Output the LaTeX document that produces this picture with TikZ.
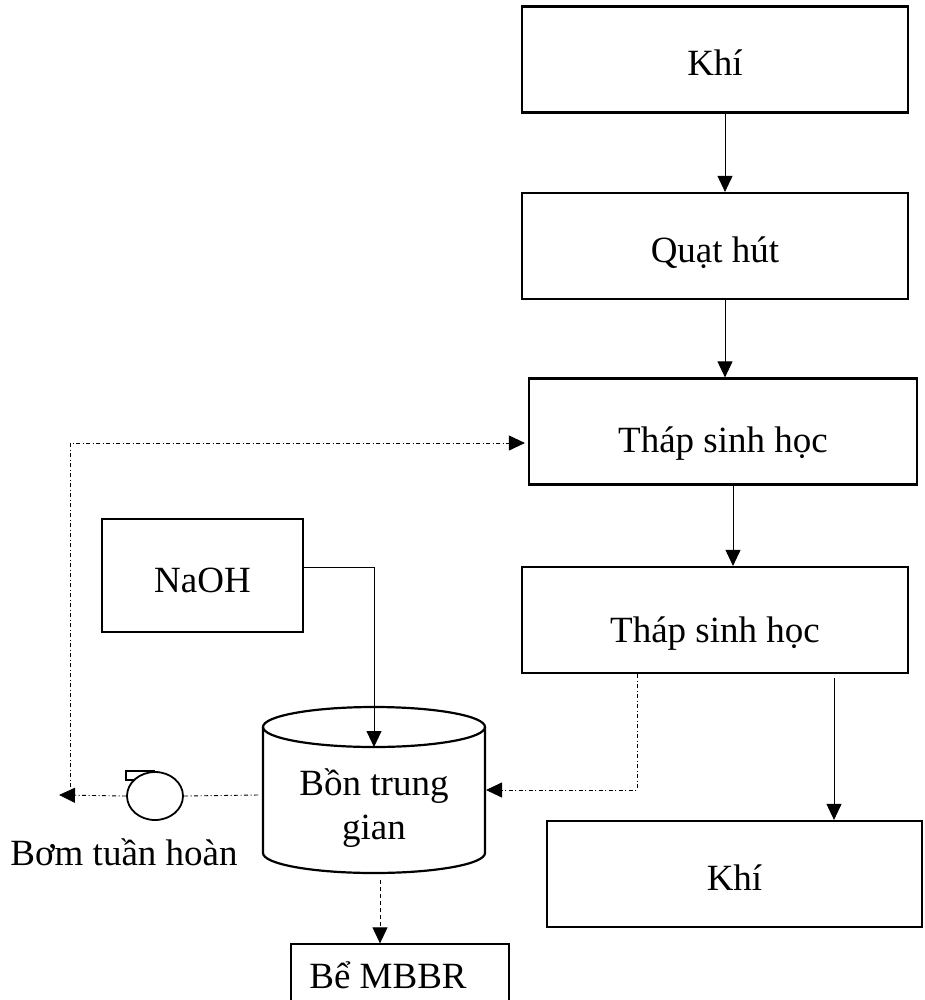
\documentclass[tikz,border=0pt]{standalone}
\usepackage{fontspec}
\setmainfont{Liberation Serif}
\usetikzlibrary{arrows.meta,shapes.geometric}

\tikzset{
  box/.style={draw, line width=2.2pt, minimum width=386pt, minimum height=106pt,
    inner sep=0pt, font=\fontsize{37}{36}\selectfont},
  flow/.style={-{Triangle[length=16pt,width=15pt]}, line width=0.9pt},
  dashdot/.style={dash pattern=on 4pt off 2.5pt on 1pt off 2.5pt},
}
\def\down#1#2{\raisebox{-#1pt}[\height][\depth]{#2}}

\begin{document}
\begin{tikzpicture}[x=1pt,y=-1pt]
  \useasboundingbox (0,0) rectangle (924,1000);
  \def \rx {111}
  \def \ry {20}
  % main column
  \node[box] (khi1) at (715,59.5) {\down{3}{Khí}};
  \node[box] (quat) at (715,246) {\down{7}{Quạt hút}};
  \node[box, minimum width=388pt] (thap1) at (723,431.5) {\down{12}{Tháp sinh học}};
  \node[box] (thap2) at (715,620) {\down{14}{Tháp sinh học}};
  \node[box, minimum width=375pt] (khi2) at (734.5,874) {\down{4}{Khí}};
  \node[box, minimum width=201pt, minimum height=113pt] (naoh) at (202.5,575.5) {\down{5}{NaOH}};
  \node[box, line width=1.3pt, minimum width=218pt, minimum height=62pt] (mbbr) at (400,975) {\hspace{-24pt}Bể MBBR};
  \foreach \a/\b in {khi1/quat, quat/thap1, thap1/thap2}
    \draw[flow] ([xshift=10]\a.south) -- ([xshift=10]\a.south |- \b.north);
  \draw[flow] ([xshift=119,yshift=-4]thap2.south) -- ([xshift=119]thap2.south |- khi2.north);
  % tank
  \draw[line width=2.2pt] (374,727) ellipse[x radius=\rx, y radius=\ry];
  \draw[line width=2.2pt] (263,727) -- (263,853) arc[start angle=180, end angle=0, x radius=\rx, y radius=\ry] -- (485,727);
  \node[font=\fontsize{37}{44}\selectfont, align=center] (bon) at (374,808) {Bồn trung\\gian};
  \coordinate (bonIn) at (374,747);
  \coordinate (bonR) at (486,790);
  \coordinate (bonL) at (258,795);
  \coordinate (bonOut) at (380,880);
  % pump
  \node[draw, ellipse, line width=1.8pt, minimum width=56pt, minimum height=48pt, inner sep=0pt] (bom) at (155,796) {};
  \draw[line width=1.8pt] (bom.north) -- ++(-29,0) -- ++(0,9) -- ++(9,0);
  \node[font=\fontsize{37}{36}\selectfont, anchor=base] (bomlbl) at (124,865) {Bơm tuần hoàn};
  \coordinate (ret) at (59,795);
  \coordinate (loopB) at (70,787);
  % connectors
  \draw[flow] ([yshift=8.5]naoh.east) -| (bonIn);
  \draw[flow, dashdot] ([xshift=-78]thap2.south) |- (bonR);
  \draw[line width=0.9pt, dashdot] (bonL) -- (bom.east);
  \draw[flow, dashdot] (bom.west) -- (ret);
  \draw[flow, dashdot, shorten >=3pt] (loopB) |- ([yshift=-11.5]thap1.west);
  \draw[flow, dash pattern=on 4pt off 3pt] (bonOut) -- (bonOut |- mbbr.north);
\end{tikzpicture}
\end{document}
